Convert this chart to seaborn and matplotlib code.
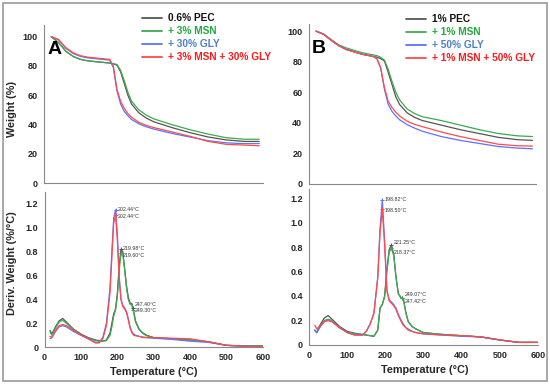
import numpy as np
import pandas as pd
import matplotlib.pyplot as plt
import seaborn as sns
from matplotlib.patches import Rectangle

sns.set_style('white')
plt.rcParams['font.family'] = ['Liberation Sans', 'DejaVu Sans']

# TGA data, panel A (weight %)
temp_tga_a = [20, 40, 60, 80, 100, 120, 140, 160, 180, 190, 200, 210, 220, 230, 240, 260, 280, 300, 350, 400, 450, 500, 550, 590]
pec_a = [100, 96, 90, 86.5, 84.5, 83.5, 83, 82.5, 82, 81.5, 80.5, 76, 68, 60, 54, 48, 44.5, 42, 38, 34.5, 31.5, 29.5, 28.5, 28.5]
msn_a = [100, 96, 90, 86.5, 84.5, 83.5, 83, 82.5, 82, 81.5, 81, 77, 70, 62, 56, 50, 46.5, 44, 40, 36.5, 33.5, 31, 30, 30]
gly_a = [100, 98, 92, 88.5, 86.5, 85.5, 85, 84.5, 84, 79, 63, 54, 49, 46, 43.5, 40.5, 38.5, 37, 34, 31.5, 29, 27.5, 27, 27]
mix_a = [100, 98, 92.5, 89, 87, 86, 85.5, 85, 84.5, 80, 64, 56, 51, 47.5, 45, 41.5, 39.5, 38, 35, 32, 28.5, 26.5, 26, 25.5]

# TGA data, panel B
temp_tga_b = [20, 40, 60, 80, 100, 120, 140, 160, 170, 180, 190, 200, 210, 220, 230, 240, 260, 280, 300, 350, 400, 450, 500, 550, 590]
pec_b = [100, 98, 94, 90.5, 88, 86.5, 85, 84, 83.5, 83, 82, 80.5, 73, 65, 57, 52, 46.5, 43.5, 41.5, 38.5, 35.5, 33, 30.5, 29, 28.5]
msn_b = [100, 98, 94.5, 91, 89, 87.5, 86, 85, 84.5, 84, 83, 81, 75, 67, 60, 55, 49, 46, 44, 41.5, 38.5, 35.5, 33, 31.5, 31]
gly_b = [100, 98, 94, 90.5, 88, 86.5, 85, 84, 83.5, 82, 76, 62, 52, 47.5, 44.5, 42, 38.8, 36.5, 34.5, 31, 28.5, 26.5, 24.5, 23.5, 23]
mix_b = [100, 98, 94, 90.5, 88, 86.5, 85, 84, 83.5, 82, 76, 63, 54, 50, 47, 44.5, 41, 39, 37.5, 34, 31, 28.5, 26, 25, 24.8]

# DTG data, panel A (%/°C)
temp_dtg_a = [15, 20, 30, 40, 50, 60, 80, 100, 120, 140, 150, 160, 170, 180, 185, 190, 195, 200, 205, 210, 215, 220, 225, 230, 235, 240, 245, 250, 260, 270, 280, 300, 350, 400, 450, 500, 550, 600]
d_pec_a = [0.14, 0.11, 0.17, 0.22, 0.24, 0.21, 0.15, 0.11, 0.08, 0.06, 0.055, 0.05, 0.06, 0.12, 0.2, 0.28, 0.32, 0.45, 0.68, 0.82, 0.80, 0.66, 0.52, 0.42, 0.37, 0.365, 0.30, 0.22, 0.15, 0.12, 0.10, 0.08, 0.07, 0.06, 0.045, 0.015, 0.01, 0.01]
d_msn_a = [0.13, 0.1, 0.16, 0.21, 0.225, 0.2, 0.145, 0.105, 0.075, 0.055, 0.05, 0.05, 0.055, 0.1, 0.17, 0.26, 0.31, 0.42, 0.64, 0.785, 0.78, 0.65, 0.5, 0.4, 0.36, 0.35, 0.29, 0.21, 0.145, 0.115, 0.095, 0.08, 0.07, 0.06, 0.045, 0.015, 0.01, 0.01]
d_gly_a = [0.07, 0.08, 0.13, 0.17, 0.18, 0.17, 0.13, 0.10, 0.07, 0.04, 0.04, 0.08, 0.2, 0.5, 0.8, 1.08, 1.15, 0.95, 0.6, 0.40, 0.35, 0.33, 0.30, 0.24, 0.17, 0.13, 0.11, 0.10, 0.09, 0.08, 0.08, 0.075, 0.065, 0.05, 0.04, 0.015, 0.008, 0.005]
d_mix_a = [0.09, 0.08, 0.14, 0.18, 0.19, 0.18, 0.14, 0.10, 0.07, 0.035, 0.035, 0.07, 0.18, 0.46, 0.76, 1.04, 1.105, 0.9, 0.58, 0.40, 0.34, 0.32, 0.29, 0.23, 0.16, 0.12, 0.10, 0.095, 0.09, 0.085, 0.08, 0.08, 0.075, 0.07, 0.045, 0.015, 0.008, 0.005]

# DTG data, panel B
temp_dtg_b = [15, 20, 30, 40, 50, 60, 80, 100, 120, 140, 150, 160, 170, 180, 186, 192, 198, 204, 210, 216, 222, 228, 234, 240, 247, 254, 260, 270, 280, 300, 350, 400, 450, 500, 550, 600]
d_pec_b = [0.12, 0.10, 0.17, 0.22, 0.24, 0.21, 0.15, 0.11, 0.095, 0.085, 0.08, 0.075, 0.07, 0.12, 0.3, 0.33, 0.40, 0.62, 0.78, 0.82, 0.74, 0.55, 0.42, 0.39, 0.38, 0.26, 0.19, 0.15, 0.13, 0.10, 0.085, 0.075, 0.065, 0.04, 0.02, 0.02]
d_msn_b = [0.12, 0.10, 0.16, 0.20, 0.21, 0.20, 0.14, 0.105, 0.09, 0.085, 0.08, 0.075, 0.07, 0.12, 0.3, 0.33, 0.39, 0.60, 0.76, 0.79, 0.73, 0.55, 0.42, 0.39, 0.38, 0.26, 0.19, 0.15, 0.13, 0.10, 0.085, 0.075, 0.065, 0.04, 0.02, 0.02]
d_gly_b = [0.12, 0.10, 0.15, 0.19, 0.20, 0.19, 0.14, 0.10, 0.08, 0.08, 0.11, 0.17, 0.26, 0.55, 0.95, 1.19, 0.85, 0.45, 0.37, 0.35, 0.33, 0.30, 0.25, 0.21, 0.17, 0.14, 0.13, 0.11, 0.10, 0.09, 0.08, 0.07, 0.065, 0.04, 0.02, 0.02]
d_mix_b = [0.16, 0.13, 0.16, 0.19, 0.20, 0.19, 0.14, 0.10, 0.08, 0.08, 0.11, 0.17, 0.26, 0.55, 0.92, 1.11, 0.82, 0.44, 0.36, 0.34, 0.32, 0.29, 0.24, 0.20, 0.16, 0.14, 0.12, 0.11, 0.10, 0.09, 0.08, 0.075, 0.065, 0.04, 0.02, 0.02]

labels_a = ['0.6% PEC', '+ 3% MSN', '+ 30% GLY', '+ 3% MSN + 30% GLY']
labels_b = ['1% PEC', '+ 1% MSN', '+ 50% GLY', '+ 1% MSN + 50% GLY']

# peak labels: (series index, temperature of mark, text, text offset in y)
peaks_a = [(2, 195, '202.44°C', 0.0), (3, 195, '202.44°C', -0.01),
           (0, 210, '219.98°C', 0.01), (1, 210, '219.60°C', -0.02),
           (1, 243, '247.40°C', 0.04), (0, 243, '249.30°C', -0.02)]
peaks_b = [(2, 192, '198.82°C', 0.0), (3, 192, '198.50°C', -0.01),
           (0, 216, '221.25°C', 0.02), (1, 216, '218.37°C', -0.03),
           (0, 244, '249.07°C', 0.03), (1, 244, '247.42°C', -0.03)]

line_colors = ['#555555', '#3daa4f', '#6070ff', '#ff4a4a']
text_colors = ['#111111', '#1faa3c', '#4f7fc8', '#ff1a1a']

fig = plt.figure(figsize=(5.5, 3.84), dpi=100)
fig.patches.append(Rectangle((0.006, 0.008), 0.988, 0.984, transform=fig.transFigure,
                             fill=False, edgecolor='#9a9a9a', linewidth=1.2))

ax_ta = fig.add_axes([0.080, 0.523, 0.398, 0.412])
ax_da = fig.add_axes([0.081, 0.096, 0.397, 0.404])
ax_tb = fig.add_axes([0.561, 0.521, 0.414, 0.416])
ax_db = fig.add_axes([0.562, 0.102, 0.416, 0.407])


def style_axes(ax, ylim, yticks, ylabels, xlabels):
    for s in ['top', 'right']:
        ax.spines[s].set_visible(False)
    for s in ['left', 'bottom']:
        ax.spines[s].set_color('#888888')
        ax.spines[s].set_linewidth(0.8)
    ax.set_xlim(0, 600)
    ax.set_ylim(*ylim)
    ax.set_yticks(yticks)
    ax.set_yticklabels(ylabels, fontsize=6.5, fontweight='bold')
    ax.set_xticks([0, 100, 200, 300, 400, 500, 600])
    if xlabels:
        ax.set_xticklabels(['0', '100', '200', '300', '400', '500', '600'], fontsize=6.5, fontweight='bold')
    else:
        ax.set_xticklabels([])
    ax.set_xticks(np.arange(0, 601, 25), minor=True)
    ax.tick_params(axis='both', which='major', length=2, width=0.6, color='#888888', pad=2.5)
    ax.tick_params(axis='x', which='minor', length=1.2, width=0.4, color='#aaaaaa')
    ax.set_xlabel('')
    ax.set_ylabel('')


def draw_tga(ax, temps, series, labels, letter, leg_x, leg_y):
    for i, vals in enumerate(series):
        sns.lineplot(x=temps, y=vals, color=line_colors[i], linewidth=0.9, ax=ax, label=labels[i])
    leg = ax.legend(loc='upper left', bbox_to_anchor=(leg_x, leg_y), bbox_transform=fig.transFigure,
                    frameon=False, borderpad=0, handlelength=2.0, handletextpad=0.6, labelspacing=0.3,
                    prop={'size': 7.3, 'weight': 'bold'})
    for txt, c in zip(leg.get_texts(), text_colors):
        txt.set_color(c)
    for ln in leg.get_lines():
        ln.set_linewidth(1.3)
    ax.text(0.015, 0.9, letter, transform=ax.transAxes, fontsize=14, fontweight='bold',
            ha='left', va='top', color='black')


def draw_dtg(ax, temps, series, peaks):
    for i, vals in enumerate(series):
        sns.lineplot(x=temps, y=vals, color=line_colors[i], linewidth=0.9, ax=ax, legend=False)
    for idx, t, txt, dy in peaks:
        yv = np.interp(t, temps, series[idx])
        ax.plot(t, yv, marker='+', color=line_colors[idx], markersize=3, markeredgewidth=0.7)
        ax.text(t + 6, yv + dy, txt, fontsize=3.8, color='#333333', va='center', ha='left')


ylab_w = ['0', '20', '40', '60', '80', '100']
yt_d = [0, 0.2, 0.4, 0.6, 0.8, 1.0, 1.2]
ylab_d = ['0', '0.2', '0.4', '0.6', '0.8', '1.0', '1.2']

draw_tga(ax_ta, temp_tga_a, [pec_a, msn_a, gly_a, mix_a], labels_a, 'A', 0.249, 0.979)
style_axes(ax_ta, (0, 108), [0, 20, 40, 60, 80, 100], ylab_w, False)
draw_tga(ax_tb, temp_tga_b, [pec_b, msn_b, gly_b, mix_b], labels_b, 'B', 0.729, 0.976)
style_axes(ax_tb, (0, 104.6), [0, 20, 40, 60, 80, 100], ylab_w, False)

draw_dtg(ax_da, temp_dtg_a, [d_pec_a, d_msn_a, d_gly_a, d_mix_a], peaks_a)
style_axes(ax_da, (0, 1.3), yt_d, ylab_d, True)
draw_dtg(ax_db, temp_dtg_b, [d_pec_b, d_msn_b, d_gly_b, d_mix_b], peaks_b)
style_axes(ax_db, (0, 1.28), yt_d, ylab_d, True)

fig.text(0.022, 0.715, 'Weight (%)', rotation=90, fontsize=7.8, fontweight='bold', ha='center', va='center')
fig.text(0.022, 0.315, 'Deriv. Weight (%/°C)', rotation=90, fontsize=7.8, fontweight='bold', ha='center', va='center')
fig.text(0.28, 0.03, 'Temperature (°C)', fontsize=7.8, fontweight='bold', ha='center', va='center')
fig.text(0.772, 0.037, 'Temperature (°C)', fontsize=7.8, fontweight='bold', ha='center', va='center')

plt.savefig('out.png', dpi=100)
